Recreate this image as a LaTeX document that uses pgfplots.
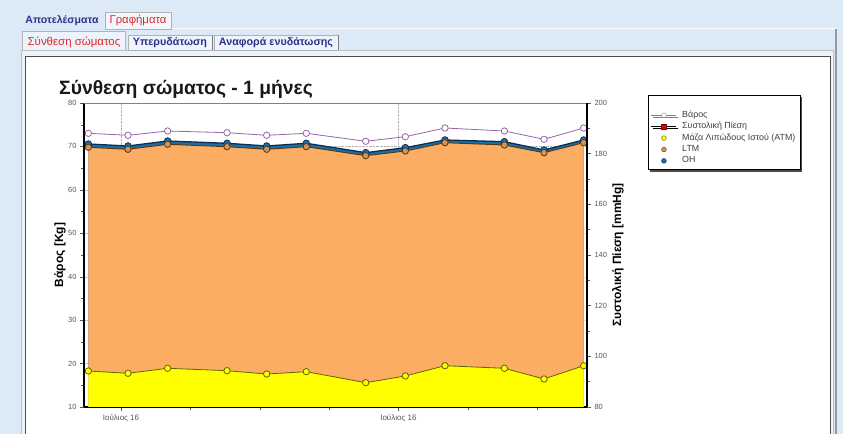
\documentclass[border=0pt]{standalone}
\usepackage{pgfplots}
\usepackage{pgfplotstable}
\pgfplotsset{compat=1.18}
\usepackage{fontspec}
\setmainfont{Liberation Sans}
\usetikzlibrary{shadows,backgrounds}

\definecolor{bgblue}{RGB}{220,234,248}
\definecolor{panelbg}{RGB}{236,243,250}
\definecolor{navy}{RGB}{48,48,140}
\definecolor{tabred}{RGB}{228,40,40}
\definecolor{tickgray}{RGB}{85,85,95}
\definecolor{atmyellow}{RGB}{255,255,0}
\definecolor{atmline}{RGB}{100,100,0}
\definecolor{ltmorange}{RGB}{251,173,100}
\definecolor{ltmline}{RGB}{90,55,20}
\definecolor{ohblue}{RGB}{24,112,170}
\definecolor{ohline}{RGB}{15,45,80}
\definecolor{weightpurple}{RGB}{150,100,170}

% day, weight [kg], top of OH, top of LTM, top of ATM (stacked, kg)
\pgfplotstableread{
day  weight  oh     ltm    atm
0    73.02   70.56  69.80  18.29
2    72.56   70.10  69.34  17.76
4    73.55   71.25  70.49  18.91
7    73.16   70.72  69.94  18.36
9    72.56   70.10  69.34  17.60
11   73.02   70.72  69.94  18.13
14   71.18   68.56  67.87  15.60
16   72.24   69.71  68.95  17.14
18   74.24   71.48  70.86  19.51
21   73.55   71.09  70.33  18.91
23   71.64   69.18  68.56  16.45
25   74.24   71.48  70.86  19.51
}\bodycomp

\pgfplotsset{
  leg line/.style={legend image code/.code={
    \draw[mark repeat=2,mark phase=2,##1] plot coordinates {(0bp,0bp) (12.5bp,0bp) (25bp,0bp)};
    \path (29bp,0bp);}},
  leg mark/.style={legend image code/.code={
    \draw[##1] plot coordinates {(12.5bp,0bp)};
    \path (0bp,0bp) (29bp,0bp);}},
  chart/.style={
    at={(84bp,27bp)}, anchor=south west,
    scale only axis, width=503bp, height=304bp,
    xmin=-0.22, xmax=25.17,
    tick align=outside, major tick length=4bp, minor tick length=3bp,
    tick style={tickgray, thin},
    yticklabel style={font=\fontsize{7.5}{8}\selectfont, text=tickgray},
    xticklabel style={font=\fontsize{8}{9}\selectfont, text=tickgray},
    /pgf/number format/assume math mode=true,
  },
}

\begin{document}
\begin{tikzpicture}
\begin{axis}[chart,
  ymin=10, ymax=80,
  xtick={1.65,15.65}, xticklabels={Ιούλιος 16,Ιούλιος 16},
  minor xtick={5.15,8.65,12.15,19.15,22.65},
  ytick={10,20,...,80}, minor y tick num=1,
  axis x line*=bottom, axis y line*=left,
  axis line style={-, line width=1.6bp, black},
  xtick pos=left, ytick pos=left,
  xmajorgrids, ymajorgrids,
  grid style={gray!60, densely dotted, thin},
  every axis y label/.style={at={(axis description cs:-0.0477,0.5)}, rotate=90, anchor=center, font=\bfseries\fontsize{12}{14}\selectfont},
  ylabel={Βάρος [Kg]},
  legend cell align=left,
  legend style={
    at={(1.1213,1.0263)}, anchor=north west,
    draw=black, fill=white,
    drop shadow={shadow xshift=2bp, shadow yshift=-2bp, fill=black!70, opacity=1},
    font=\fontsize{8.9}{10}\selectfont, text=black!75,
    inner xsep=3bp, inner ysep=3bp, row sep=0bp,
    nodes={inner sep=1.6bp, text height=6.2bp, text depth=2bp},
  },
]
\addplot[draw=none, fill=ohblue, forget plot] table[x=day,y=oh]{\bodycomp} \closedcycle;
\addplot[draw=none, fill=ltmorange, forget plot] table[x=day,y=ltm]{\bodycomp} \closedcycle;
\addplot[draw=none, fill=atmyellow, forget plot] table[x=day,y=atm]{\bodycomp} \closedcycle;
\addplot[weightpurple, line width=0.8bp, mark=*, mark size=3.2bp,
  mark options={fill=white, draw=weightpurple}, forget plot] table[x=day,y=weight]{\bodycomp};
\addplot[ohline, line width=1.3bp, mark=*, mark size=3.3bp,
  mark options={fill=ohblue, draw=ohline, line width=0.8bp}, forget plot] table[x=day,y=oh]{\bodycomp};
\addplot[ltmline, line width=1bp, mark=*, mark size=3.2bp,
  mark options={fill=ltmorange!85!black, draw=ltmline, line width=0.8bp}, forget plot] table[x=day,y=ltm]{\bodycomp};
\addplot[atmline, line width=0.8bp, mark=*, mark size=3.2bp,
  mark options={fill=atmyellow, draw=atmline}, forget plot] table[x=day,y=atm]{\bodycomp};

\addlegendimage{empty legend}\addlegendentry{}
\addlegendimage{leg line, gray, mark=*, mark size=2.4bp, mark options={fill=white, draw=gray}}
\addlegendentry{Βάρος}
\addlegendimage{leg line, black, mark=square*, mark size=2.4bp, mark options={fill=red!85!black, draw=red!50!black}}
\addlegendentry{Συστολική Πίεση}
\addlegendimage{leg mark, only marks, mark=*, mark size=2.4bp, mark options={fill=atmyellow, draw=atmline}}
\addlegendentry{Μάζα Λιπώδους Ιστού (ΑΤΜ)}
\addlegendimage{leg mark, only marks, mark=*, mark size=2.4bp, mark options={fill=ltmorange!85!black, draw=ltmline}}
\addlegendentry{LTM}
\addlegendimage{leg mark, only marks, mark=*, mark size=2.4bp, mark options={fill=ohblue, draw=ohline}}
\addlegendentry{OH}
\end{axis}

\begin{axis}[chart,
  ymin=80, ymax=200,
  axis x line*=top, axis y line*=right,
  x axis line style={-, gray, thin},
  y axis line style={-, black, line width=1.6bp},
  xtick=\empty,
  ytick={80,100,...,200}, minor y tick num=1, ytick pos=right,
  every axis y label/.style={at={(axis description cs:1.0616,0.5)}, rotate=90, anchor=center, font=\bfseries\fontsize{12}{14}\selectfont},
  ylabel={Συστολική Πίεση [mmHg]},
]
\end{axis}

\begin{scope}[x=1bp,y=1bp]
\begin{pgfonlayer}{background}
\fill[white] (0,0) rectangle (846,434);
\fill[bgblue] (0,0) rectangle (843,434);
% tab panels
\draw[white, line width=1bp] (171,405) -- (836,405);
\draw[gray!80, line width=1.2bp] (836,0) -- (836,405);
\filldraw[fill=panelbg, draw=gray!50] (21.5,-2) rectangle (833,384);
\filldraw[fill=white, draw=black!70, line width=1bp] (25.5,-2) rectangle (830,377);
\end{pgfonlayer}

% first row of tabs
\node[font=\bfseries\fontsize{10.6}{12}\selectfont, text=navy] at (62,413) {Αποτελέσματα};
\filldraw[fill=white!60!bgblue, draw=gray!60] (105,405) rectangle (171,422);
\node[font=\fontsize{11.4}{13}\selectfont, text=tabred] at (138,413.5) {Γραφήματα};
% second row of tabs
\filldraw[fill=panelbg, draw=gray!60] (22,384) -- (22,403) -- (125,403) -- (125,384);
\node[text=tabred, font=\fontsize{11.5}{13}\selectfont] at (74,391.5) {Σύνθεση σώματος};
\filldraw[fill=white!50!bgblue, draw=gray!60] (128,384) rectangle (212,399);
\draw[gray] (212,384) -- (212,399);
\node[text=navy, font=\bfseries\fontsize{10.8}{12}\selectfont] at (170,391) {Υπερυδάτωση};
\filldraw[fill=white!50!bgblue, draw=gray!60] (214,384) rectangle (338,399);
\draw[gray] (338,384) -- (338,399);
\node[text=navy, font=\bfseries\fontsize{10.8}{12}\selectfont] at (276,391) {Αναφορά ενυδάτωσης};

% chart title
\node[anchor=base west, inner sep=0, text=black!90, font=\bfseries\fontsize{19.4}{22}\selectfont] at (59,339) {Σύνθεση σώματος - 1 μήνες};

\pgfresetboundingbox
\path[use as bounding box] (0,0) rectangle (846,434);
\end{scope}
\end{tikzpicture}
\end{document}
